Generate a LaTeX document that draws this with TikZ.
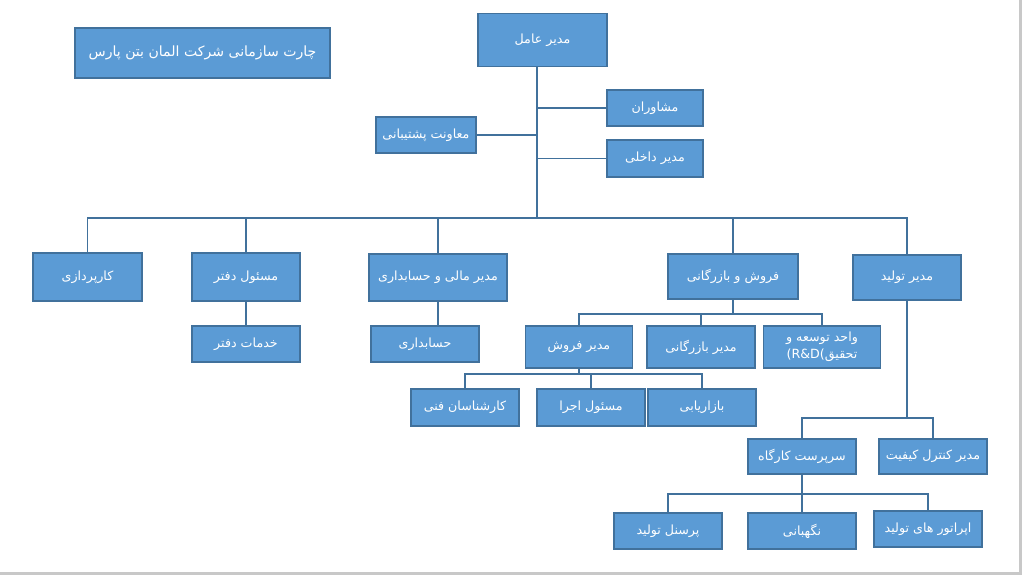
\documentclass[tikz,border=0pt]{standalone}
\usepackage{fontspec}
\TeXXeTstate=1
\newfontfamily\arabicfont[Script=Arabic]{DejaVu Sans}
\newfontfamily\latinfont{DejaVu Sans}
\newcommand\rtl[1]{\beginR #1\endR}
\definecolor{boxfill}{HTML}{5B9BD5}
\definecolor{boxline}{HTML}{41719C}
\definecolor{pageedge}{HTML}{C8C8C8}

\begin{document}
\begin{tikzpicture}[x=0.025cm,y=-0.025cm,
        box/.style={draw=boxline,fill=boxfill,line width=0.8pt,text=white,
            font=\arabicfont\fontsize{9}{12}\selectfont,inner sep=1pt,
            minimum width=108*0.025cm,minimum height=36*0.025cm},
        wire/.style={draw=boxline,line width=0.8pt}]
        % page and its edge
        \fill[white] (0,0) rectangle (1022,575);
        \fill[pageedge] (1019,0) rectangle (1022,575);
        \fill[pageedge] (0,572) rectangle (1022,575);

        \node[box,minimum width=255*0.025cm,minimum height=50*0.025cm,
            font=\arabicfont\fontsize{10}{13}\selectfont] (title) at (202.5,53) {\rtl{چارت سازمانی شرکت المان بتن پارس}};
        \node[box,minimum width=129*0.025cm,minimum height=53*0.025cm] (ceo) at (542.5,40) {\rtl{مدیر عامل}};
        \node[box,minimum width=96*0.025cm] (moshaver) at (655,108) {\rtl{مشاوران}};
        \node[box,minimum width=96*0.025cm,minimum height=37*0.025cm] (dakheli) at (655,158.5) {\rtl{مدیر داخلی}};
        \node[box,minimum width=100*0.025cm] (poshtiban) at (426,135) {\rtl{معاونت پشتیبانی}};

        % second row
        \node[box,minimum width=109*0.025cm,minimum height=48*0.025cm] (karpardaz) at (87.5,277) {\rtl{کارپردازی}};
        \node[box,minimum height=48*0.025cm] (daftar) at (246,277) {\rtl{مسئول دفتر}};
        \node[box,minimum width=138*0.025cm,minimum height=47*0.025cm] (mali) at (438,277.5) {\rtl{مدیر مالی و حسابداری}};
        \node[box,minimum width=130*0.025cm,minimum height=45*0.025cm] (forush) at (733,276.5) {\rtl{فروش و بازرگانی}};
        \node[box,minimum height=45*0.025cm] (tolid) at (907,277.5) {\rtl{مدیر تولید}};

        % third row
        \node[box] (khadamat) at (246,344) {\rtl{خدمات دفتر}};
        \node[box] (hesab) at (425,344) {\rtl{حسابداری}};
        \node[box,minimum width=107*0.025cm,minimum height=42*0.025cm] (mforush) at (579,347) {\rtl{مدیر فروش}};
        \node[box,minimum height=42*0.025cm] (mbazar) at (701,347) {\rtl{مدیر بازرگانی}};
        \node[box,minimum width=117*0.025cm,minimum height=42*0.025cm,align=center] (rnd) at (822,347)
            {\rtl{واحد توسعه و}\\{\latinfont(R\&D(}\rtl{تحقیق}};

        % under sales
        \node[box,minimum height=37*0.025cm] (karshenas) at (465,407.5) {\rtl{کارشناسان فنی}};
        \node[box,minimum height=37*0.025cm] (ejra) at (591,407.5) {\rtl{مسئول اجرا}};
        \node[box,minimum height=37*0.025cm] (bazaryabi) at (702,407.5) {\rtl{بازاریابی}};

        % under production
        \node[box,minimum height=35*0.025cm] (sarparast) at (802,456.5) {\rtl{سرپرست کارگاه}};
        \node[box,minimum height=35*0.025cm] (keyfiat) at (933,456.5) {\rtl{مدیر کنترل کیفیت}};
        \node[box] (personel) at (668,531) {\rtl{پرسنل تولید}};
        \node[box] (negahban) at (802,531) {\rtl{نگهبانی}};
        \node[box] (operator) at (928,529) {\rtl{اپراتور های تولید}};

        \coordinate (trunk) at (537,218);
        \coordinate (fb) at (733,314);
        \coordinate (mf) at (579,374);
        \coordinate (tl) at (907,418);
        \coordinate (sp) at (802,494);

        \draw[wire] (ceo.south -| trunk) -- (trunk);
        \draw[wire] (poshtiban.east) -- (poshtiban.east -| trunk);
        \draw[wire] (moshaver.west) -- (moshaver.west -| trunk);
        \draw[wire] (dakheli.west) -- (dakheli.west -| trunk);
        \draw[wire] (karpardaz.north) |- (trunk) -| (tolid.north);
        \foreach \n in {daftar,mali,forush}
            \draw[wire] (\n.north) -- (\n.north |- trunk);

        \draw[wire] (daftar.south) -- (khadamat.north);
        \draw[wire] (mali.south) -- (mali.south |- hesab.north);

        \draw[wire] (forush.south) -- (fb);
        \draw[wire] (mforush.north) |- (fb) -| (rnd.north);
        \draw[wire] (mbazar.north) -- (mbazar.north |- fb);

        \draw[wire] (mforush.south) -- (mf);
        \draw[wire] (karshenas.north) |- (mf) -| (bazaryabi.north);
        \draw[wire] (ejra.north) -- (ejra.north |- mf);

        \draw[wire] (tolid.south) -- (tl);
        \draw[wire] (sarparast.north) |- (tl) -| (keyfiat.north);

        \draw[wire] (sarparast.south) -- (negahban.north);
        \draw[wire] (personel.north) |- (sp) -| (operator.north);
\end{tikzpicture}
\end{document}
